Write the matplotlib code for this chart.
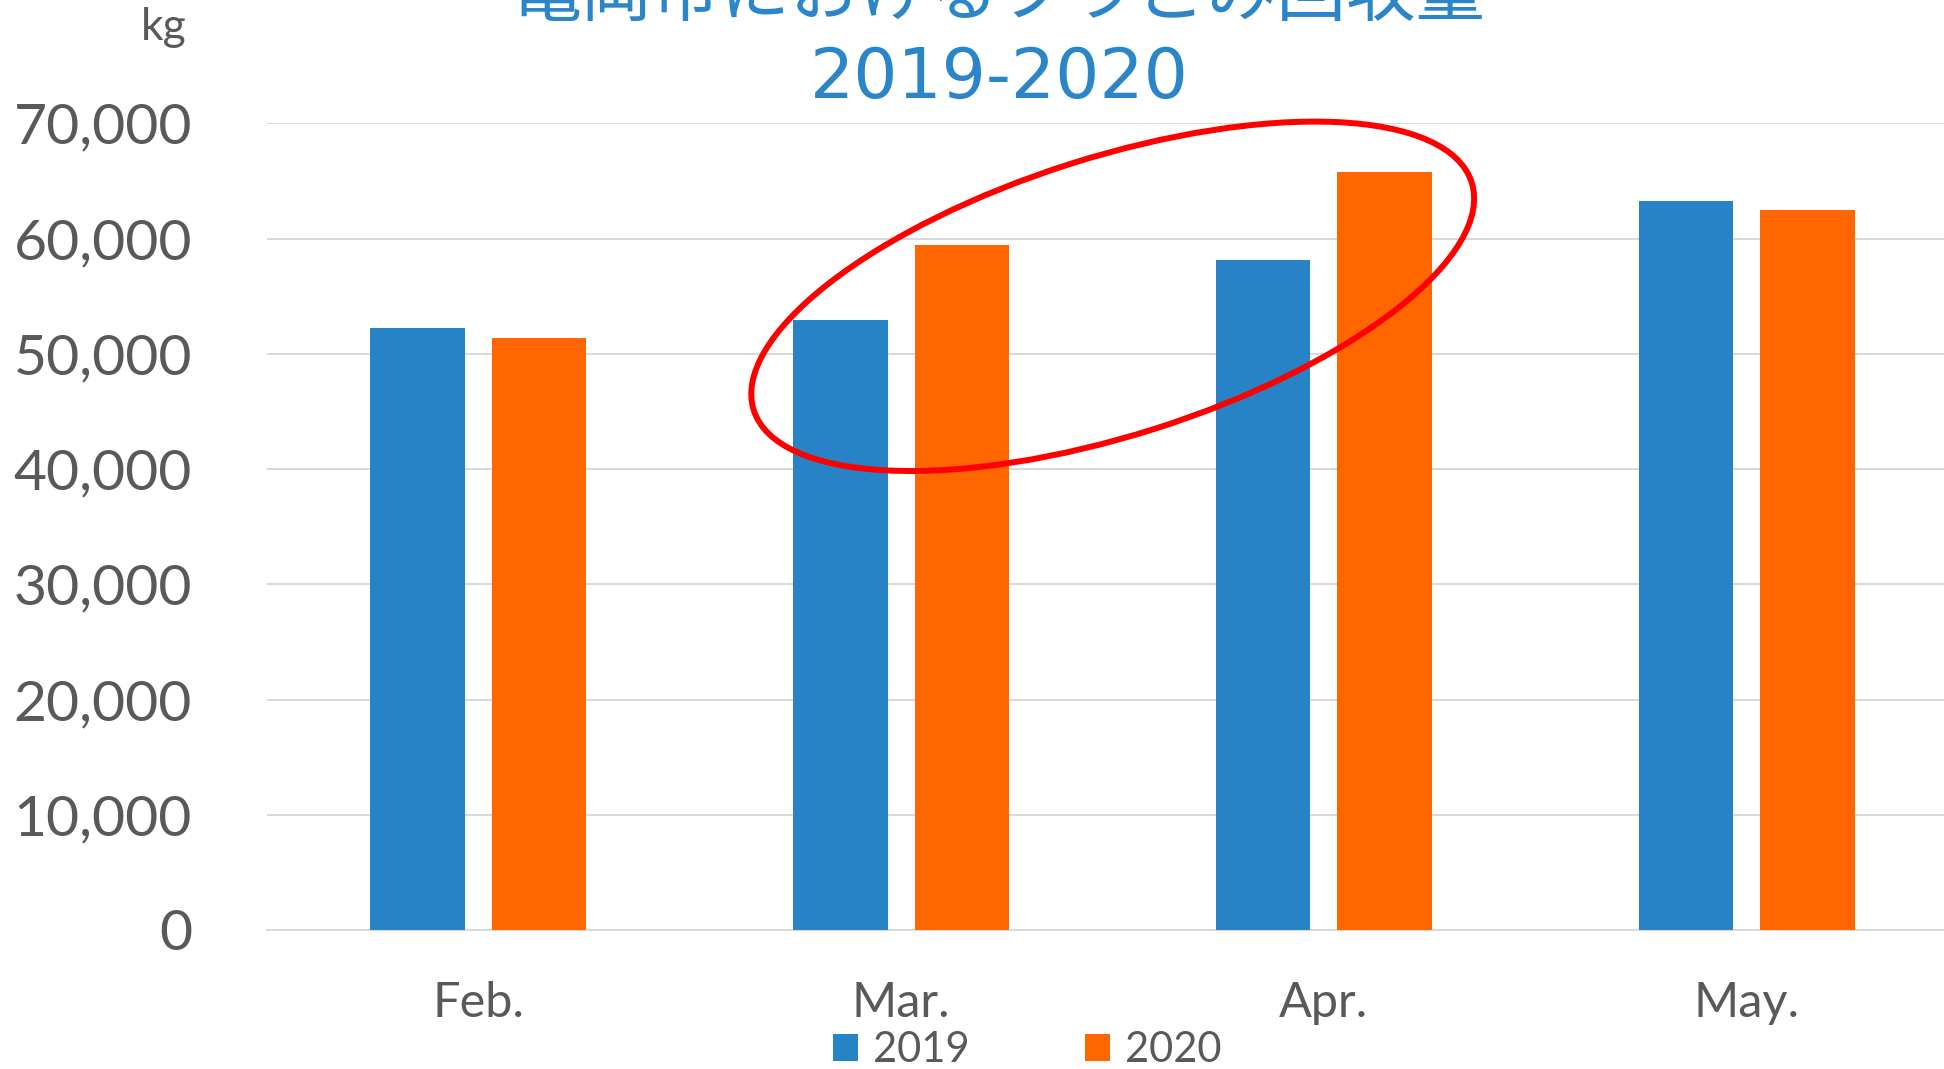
import matplotlib
matplotlib.use("Agg")
import matplotlib.pyplot as plt
from matplotlib.patches import Ellipse
from matplotlib.ticker import FuncFormatter
import numpy as np

months = ["Feb.", "Mar.", "Apr.", "May."]
years = ["2019", "2020"]
vals_2019 = [52200, 52900, 58100, 63300]
vals_2020 = [51400, 59400, 65800, 62500]
title_line1 = "亀岡市におけるプラごみ回収量"
title_line2 = "2019-2020"
unit_label = "kg"
yticks = [0, 10000, 20000, 30000, 40000, 50000, 60000, 70000]

c2019 = "#2783C6"
c2020 = "#FF6600"
tcol = "#595959"
title_col = "#2A86C8"

W, H = 1944, 1069
fig = plt.figure(figsize=(W / 100, H / 100), dpi=100)
ax = fig.add_axes([267 / W, 1 - 930 / H, (1958 - 267) / W, (930 - 123.3) / H])

x = np.arange(len(months))
bw = 0.223
off = 0.1437
ax.bar(x - off, vals_2019, bw, color=c2019, label=years[0], zorder=3)
ax.bar(x + off, vals_2020, bw, color=c2020, label=years[1], zorder=3)

ax.set_xlim(-0.5, len(months) - 0.5)
ax.set_ylim(0, 70000)
ax.set_yticks(yticks)
ax.yaxis.set_major_formatter(FuncFormatter(lambda v, p: f"{int(v):,}"))
ax.set_xticks(x)
ax.set_xticklabels(months)
ax.grid(axis="y", color="#D9D9D9", linewidth=1.4, zorder=0)
for s in ["top", "right", "left"]:
    ax.spines[s].set_visible(False)
ax.spines["bottom"].set_color("#D9D9D9")
ax.spines["bottom"].set_linewidth(1.4)
ax.tick_params(axis="both", length=0)
ax.tick_params(axis="y", pad=75 * 0.72, labelsize=41, labelcolor=tcol)
ax.tick_params(axis="x", pad=37, labelsize=35, labelcolor=tcol)
for lab in ax.get_yticklabels() + ax.get_xticklabels():
    lab.set_family("Lato")

fig.text(164 / W, 1 - 27 / H, unit_label, ha="center", va="center",
         fontsize=32, color=tcol, family="Lato")

fig.text(999 / W, 1 - 15 / H, title_line1, ha="center", va="baseline",
         fontsize=50, color=title_col, family=["Noto Sans CJK JP", "DejaVu Sans"])
fig.text(999 / W, 1 - 98 / H, title_line2, ha="center", va="baseline",
         fontsize=50, color=title_col, family=["DejaVu Sans"])

leg = fig.legend(loc="center", bbox_to_anchor=(1027 / W, 1 - 1050 / H), ncol=2,
                 frameon=False, handlelength=0.6, handleheight=0.6,
                 columnspacing=2.77, handletextpad=0.36, borderaxespad=0,
                 borderpad=0, prop={"family": "Lato", "size": 30})
for t in leg.get_texts():
    t.set_color(tcol)

ell = Ellipse((1112.7 / 100, (H - 296.3) / 100), 2 * 376.6 / 100, 2 * 139 / 100,
              angle=17.6, fill=False, edgecolor="#FF0000", linewidth=4.3,
              transform=fig.dpi_scale_trans, zorder=10)
fig.add_artist(ell)

fig.savefig("out.png", dpi=100)
